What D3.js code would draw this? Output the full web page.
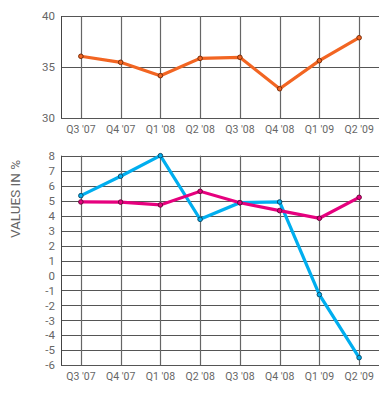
<!DOCTYPE html>
<html><head><meta charset="utf-8">
<script src="https://cdn.jsdelivr.net/npm/d3@7"></script>
<style>body{margin:0;background:#fff}svg{display:block}text{font-family:Roboto,"DejaVu Sans",sans-serif;fill:#666}</style>
</head><body>
<svg id="c" width="391" height="397"></svg>
<script>
const categories = ["Q3 '07","Q4 '07","Q1 '08","Q2 '08","Q3 '08","Q4 '08","Q1 '09","Q2 '09"];
const topValues = [36.05, 35.46, 34.15, 35.85, 35.95, 32.87, 35.62, 37.87];
const blueValues = [5.33, 6.63, 8.0, 3.75, 4.86, 4.91, -1.28, -5.49];
const magentaValues = [4.91, 4.9, 4.71, 5.62, 4.86, 4.33, 3.82, 5.22];
const topTicks = [30, 35, 40];
const bottomTicks = [-6,-5,-4,-3,-2,-1,0,1,2,3,4,5,6,7,8];
const yLabel = "VALUES IN %";

const svg = d3.select("#c");
const L = 61, R = 379;
const x = d3.scalePoint().domain(categories).range([L, R]).padding(0.5);

function panel(yScale, ticks, series, labelY) {
  const g = svg.append("g");
  const [y0, y1] = yScale.range();
  g.selectAll(".h").data(ticks).join("line")
    .attr("x1", L).attr("x2", R)
    .attr("y1", d => Math.round(yScale(d)) + 0.5).attr("y2", d => Math.round(yScale(d)) + 0.5)
    .attr("stroke", "#555").attr("stroke-width", 1);
  g.selectAll(".v").data(categories).join("line")
    .attr("x1", d => Math.round(x(d)) + 0.5).attr("x2", d => Math.round(x(d)) + 0.5)
    .attr("y1", y1).attr("y2", y0)
    .attr("stroke", "#666").attr("stroke-width", 1.2);
  g.append("line").attr("x1", L + 0.5).attr("x2", L + 0.5).attr("y1", y1).attr("y2", y0)
    .attr("stroke", "#444").attr("stroke-width", 1);
  g.selectAll(".yt").data(ticks).join("text")
    .attr("x", L - 6).attr("y", d => yScale(d)).attr("dy", "0.36em")
    .attr("text-anchor", "end").attr("font-size", 11.5).text(d => d);
  g.selectAll(".xt").data(categories).join("text")
    .attr("x", d => x(d)).attr("y", labelY)
    .attr("text-anchor", "middle").attr("font-size", 10.5).text(d => d);
  series.forEach(s => {
    const line = d3.line().x((d, i) => x(categories[i])).y(d => yScale(d));
    g.append("path").datum(s.values).attr("d", line)
      .attr("fill", "none").attr("stroke", s.color).attr("stroke-width", 3.2)
      .attr("stroke-linejoin", "miter");
  });
  series.forEach(s => {
    g.selectAll(null).data(s.values).join("circle")
      .attr("cx", (d, i) => x(categories[i])).attr("cy", d => yScale(d))
      .attr("r", 2.3).attr("fill", s.color).attr("stroke", s.dark).attr("stroke-width", 1);
  });
}

const yTop = d3.scaleLinear().domain([30, 40]).range([118, 16]);
panel(yTop, topTicks, [{values: topValues, color: "#F26522", dark: "#7a2e0a"}], 133);

const yBot = d3.scaleLinear().domain([-6, 8]).range([365.3, 155.7]);
panel(yBot, bottomTicks, [
  {values: blueValues, color: "#00AEEF", dark: "#0b4f6e"},
  {values: magentaValues, color: "#E6007E", dark: "#6e0a3e"}
], 380);

svg.append("text").attr("transform", "translate(20,199) rotate(-90)")
  .attr("text-anchor", "middle").attr("font-size", 13.5).text(yLabel);
</script>
</body></html>
